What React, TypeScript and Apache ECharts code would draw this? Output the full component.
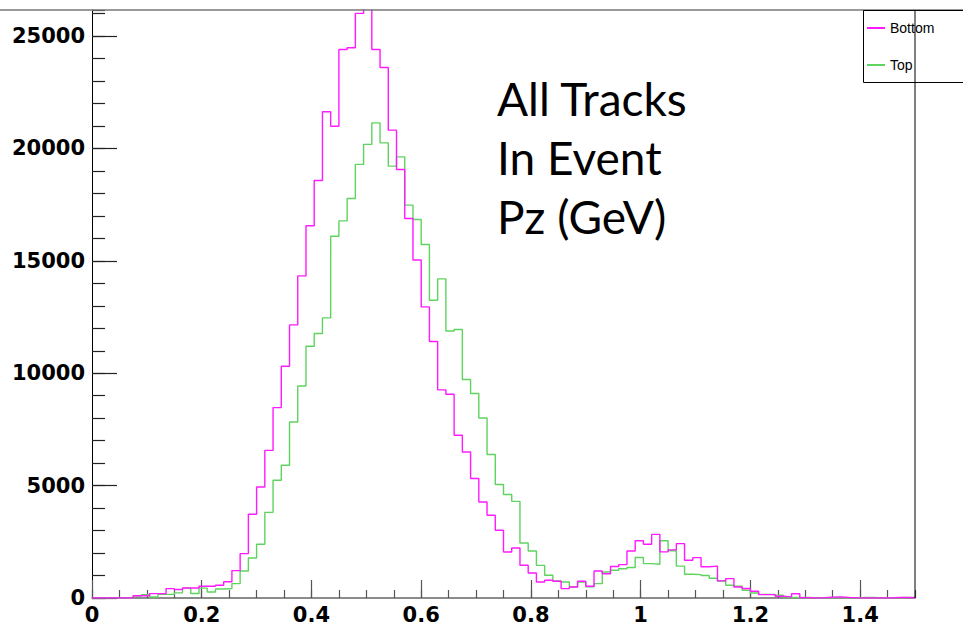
import React, { useEffect, useRef } from 'react';
import * as echarts from 'echarts';

// Histogram: 100 bins of width 0.015 from 0 to 1.5 (Pz in GeV)
const BIN_WIDTH = 0.015;

const seriesNames = ['Bottom', 'Top'];

const bottomCounts = [
  0, 0, 0, 0, 0, 100, 100, 196, 196, 418,
  375, 446, 446, 520, 520, 565, 720, 1220, 1975, 3725,
  4940, 6570, 8470, 10310, 12150, 14330, 16560, 18575, 21630, 20990,
  24400, 24480, 26010, 26700, 24400, 23600, 20815, 19066, 16884, 15040,
  12950, 11410, 9260, 9066, 7241, 6498, 5314, 4273, 3680, 3013,
  2047, 2225, 1455, 1113, 712, 788, 743, 418, 490, 745,
  520, 1202, 1080, 1400, 1485, 2094, 2550, 2390, 2830, 2050,
  2140, 2420, 1678, 1797, 1390, 1420, 760, 863, 492, 420,
  300, 150, 150, 80, 50, 190, 15, 0, 10, 40,
  50, 25, 10, 0, 0, 0, 0, 25, 25, 10,
];

const topCounts = [
  0, 0, 0, 0, 0, 90, 150, 45, 160, 160,
  230, 440, 200, 440, 270, 400, 420, 640, 1200, 1780,
  2390, 3810, 5238, 5905, 7833, 9435, 11200, 11767, 12462, 16097,
  16778, 17775, 19290, 20180, 21140, 20250, 19213, 19627, 17477, 16840,
  15728, 13250, 14200, 11880, 11945, 9720, 9097, 8011, 6382, 5047,
  4602, 4300, 2448, 2092, 1450, 1010, 757, 712, 500, 712,
  500, 640, 1157, 1232, 1300, 1360, 1800, 1530, 1500, 2550,
  2100, 1420, 1054, 1040, 1000, 880, 755, 565, 520, 343,
  224, 160, 160, 120, 20, 20, 30, 10, 0, 20,
  20, 0, 0, 20, 20, 0, 10, 10, 20, 20,
];

const titleLines = ['All Tracks', 'In Event', 'Pz (GeV)'];

const X_MIN = 0;
const X_MAX = 1.5;
const Y_MAX = 26160;

function toSteps(counts: number[]): number[][] {
  const pts = counts.map((v, i) => [Number((i * BIN_WIDTH).toFixed(3)), v]);
  pts.push([Number((counts.length * BIN_WIDTH).toFixed(3)), counts[counts.length - 1]]);
  return pts;
}

const MAGENTA = '#ff1aff';
const GREEN = '#5fd35f';

export default function App() {
  const ref = useRef<HTMLDivElement>(null);

  useEffect(() => {
    if (!ref.current) return;
    const chart = echarts.init(ref.current, undefined, { renderer: 'svg' });
    const labelFont = {
      fontFamily: 'DejaVu Sans',
      fontWeight: 'bold' as const,
      fontSize: 21,
      color: '#000',
    };
    chart.setOption({
      animation: false,
      backgroundColor: '#fff',
      grid: { left: 92, top: 10, width: 823, height: 588, containLabel: false },
      legend: {
        data: seriesNames,
        orient: 'vertical',
        left: 867,
        top: 20,
        icon: 'rect',
        itemWidth: 18,
        itemHeight: 2,
        itemGap: 21,
        padding: 0,
        textStyle: { fontFamily: 'Liberation Sans', fontSize: 14, color: '#000', lineHeight: 16 },
      },
      xAxis: [
        {
          type: 'value',
          min: X_MIN,
          max: X_MAX,
          interval: 0.2,
          position: 'bottom',
          axisLine: { show: true, onZero: false, lineStyle: { color: '#666', width: 1.5 } },
          axisTick: { show: true, inside: true, length: 18, lineStyle: { color: '#555', width: 1.2 } },
          axisLabel: {
            ...labelFont,
            margin: 6,
            showMaxLabel: false,
            formatter: (v: number) => String(Number(v.toFixed(1))),
          },
          splitLine: { show: false },
        },
        {
          type: 'value',
          min: X_MIN,
          max: X_MAX,
          interval: 0.05,
          position: 'bottom',
          axisLine: { show: false, onZero: false },
          axisTick: { show: true, inside: true, length: 8, lineStyle: { color: '#555', width: 1.2 } },
          axisLabel: { show: false },
          splitLine: { show: false },
        },
      ],
      yAxis: [
        {
          type: 'value',
          min: 0,
          max: Y_MAX,
          interval: 5000,
          position: 'left',
          axisLine: { show: true, onZero: false, lineStyle: { color: '#000', width: 1 } },
          axisTick: { show: true, inside: true, length: 25, lineStyle: { color: '#222', width: 1.2 } },
          axisLabel: {
            ...labelFont,
            margin: 7,
            showMaxLabel: false,
            formatter: (v: number) => String(v),
          },
          splitLine: { show: false },
        },
        {
          type: 'value',
          min: 0,
          max: Y_MAX,
          interval: 1000,
          position: 'left',
          axisLine: { show: false, onZero: false },
          axisTick: { show: true, inside: true, length: 13, lineStyle: { color: '#222', width: 1.2 } },
          axisLabel: { show: false },
          splitLine: { show: false },
        },
      ],
      series: [
        {
          name: seriesNames[1],
          type: 'line',
          step: 'end',
          xAxisIndex: 0,
          yAxisIndex: 0,
          data: toSteps(topCounts),
          symbol: 'none',
          clip: true,
          lineStyle: { color: GREEN, width: 1.4 },
          itemStyle: { color: GREEN },
          z: 2,
        },
        {
          name: seriesNames[0],
          type: 'line',
          step: 'end',
          xAxisIndex: 0,
          yAxisIndex: 0,
          data: toSteps(bottomCounts),
          symbol: 'none',
          clip: true,
          lineStyle: { color: MAGENTA, width: 1.4 },
          itemStyle: { color: MAGENTA },
          z: 3,
        },
      ],
      graphic: [
        {
          type: 'line',
          shape: { x1: 0, y1: 10, x2: 963, y2: 10 },
          style: { stroke: '#777', lineWidth: 1.5 },
          z: 10,
        },
        {
          type: 'line',
          shape: { x1: 915, y1: 10, x2: 915, y2: 598 },
          style: { stroke: '#000', lineWidth: 1 },
          z: 10,
        },
        {
          type: 'rect',
          shape: { x: 863.5, y: 10.5, width: 110, height: 72 },
          style: { fill: 'none', stroke: '#000', lineWidth: 1 },
          z: 10,
        },
        ...titleLines.map((t, i) => ({
          type: 'text',
          x: 497,
          y: 98 + i * 59,
          style: {
            text: t,
            fontFamily: 'Lato',
            fontSize: 46,
            fill: '#000',
            align: 'left',
            verticalAlign: 'middle',
          },
          z: 10,
        })),
      ],
    });
    return () => chart.dispose();
  }, []);

  return (
    <div
      ref={ref}
      style={{ position: 'absolute', left: 0, top: 0, width: 963, height: 625, background: '#fff' }}
    />
  );
}
